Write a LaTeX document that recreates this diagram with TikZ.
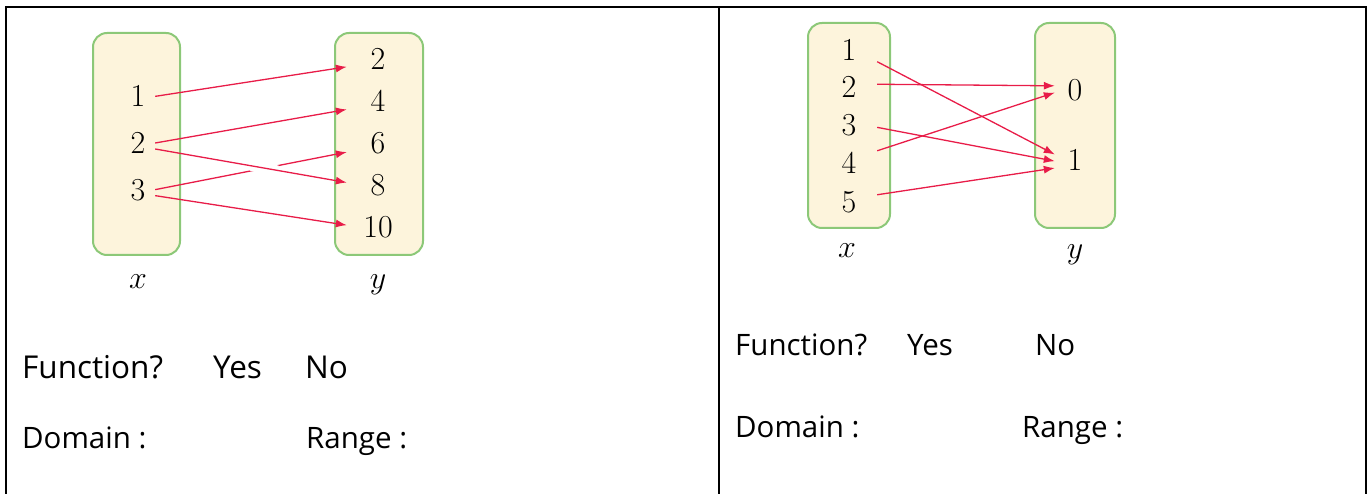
\documentclass[tikz,border=0pt]{standalone}
\usepackage{fix-cm}
\usepackage{fontspec}
\newfontfamily\handfont{Open Sans}
\usetikzlibrary{arrows.meta}
\definecolor{boxfill}{RGB}{253,244,220}
\definecolor{boxline}{RGB}{140,200,120}
\definecolor{arrowc}{RGB}{232,28,72}
\tikzset{
  setbox/.style={draw=boxline, fill=boxfill, line width=2pt, rounded corners=14pt, inner sep=0pt},
  num/.style={inner sep=0pt, font=\fontsize{32}{38}\selectfont},
  dA/.style={num, minimum width=34pt, text height=20.6pt, text depth=6pt},
  rA/.style={num, minimum width=62pt, text height=20.6pt, text depth=6pt},
  dB/.style={num, minimum width=56pt, minimum height=40pt, text height=26.6pt, text depth=0pt},
  rB/.style={num, minimum width=40pt, minimum height=44pt},
  var/.style={inner sep=0pt, anchor=base, font=\fontsize{32}{38}\selectfont},
  maparrow/.style={draw=arrowc, line width=1.3pt, -{Latex[length=11pt,width=8pt]}},
  halo/.style={draw=white, line width=10pt},
  txt/.style={inner sep=0pt, anchor=base west, font=\handfont\fontsize{29.5}{34}\selectfont},
  txtbig/.style={txt, font=\handfont\fontsize{31.5}{36}\selectfont},
  rule/.style={line width=2.4pt}
}
\begin{document}
\begin{tikzpicture}[x=1pt, y=-1pt]
\useasboundingbox (0,0) rectangle (1370,494);
% table rules
\draw[rule] (6,494) -- (6,7) -- (1366,7) -- (1366,494);
\draw[rule] (719,7) -- (719,494);

% ---------- left diagram ----------
\node[setbox, minimum width=87pt, minimum height=222pt] (bx1) at (136.5,144) {};
\node[setbox, minimum width=88pt, minimum height=222pt] (by1) at (379,144) {};
\node[dA] (a1) at (138,99) {1};
\node[dA] (a2) at (138,146) {2};
\node[dA] (a3) at (138,193) {3};
\node[rA] (b2) at (378,62) {2};
\node[rA] (b4) at (378,104) {4};
\node[rA] (b6) at (378,146) {6};
\node[rA] (b8) at (378,188) {8};
\node[rA] (b10) at (378,230) {10};
\node[var] (vx1) at (138,288) {$x$};
\node[var] (vy1) at (378,288) {$y$};
\draw[maparrow] (a1) -- (b2);
\draw[maparrow] (a2) -- (b4);
\draw[maparrow] (a3) -- (b6);
\draw[halo, shorten <=97pt, shorten >=70pt] (a2) -- (b8);
\draw[maparrow] (a2) -- (b8);
\draw[maparrow] (a3) -- (b10);

% ---------- right diagram ----------
\node[setbox, minimum width=82pt, minimum height=205pt] (bx2) at (849,125.5) {};
\node[setbox, minimum width=80pt, minimum height=205pt] (by2) at (1075,125.5) {};
\node[dB] (c1) at (849,47) {1};
\node[dB] (c2) at (849,84) {2};
\node[dB] (c3) at (849,122) {3};
\node[dB] (c4) at (849,160) {4};
\node[dB] (c5) at (849,199) {5};
\node[rB, text height=28.6pt, text depth=0pt] (e0) at (1075,86) {0};
\node[rB, text height=20.6pt, text depth=10pt] (e1) at (1075,165) {1};
\node[var] (vx2) at (847,258) {$x$};
\node[var] (vy2) at (1075,259) {$y$};
\draw[maparrow] (c1) -- (e1);
\draw[maparrow] (c2) -- (e0);
\draw[maparrow] (c3) -- (e1);
\draw[maparrow] (c4) -- (e0);
\draw[maparrow] (c5) -- (e1);

% ---------- texts ----------
\node[txtbig] (f1) at (22,378) {Function?};
\node[txtbig] (y1) at (213,378) {Yes};
\node[txtbig] (n1) at (305,378) {No};
\node[txt] (d1) at (22,448) {Domain :};
\node[txt] (r1) at (306,448) {Range :};
\node[txt] (f2) at (735,355) {Function?};
\node[txt] (y2) at (907,355) {Yes};
\node[txt] (n2) at (1035,355) {No};
\node[txt] (d2) at (735,437) {Domain :};
\node[txt] (r2) at (1022,437) {Range :};
\end{tikzpicture}
\end{document}
